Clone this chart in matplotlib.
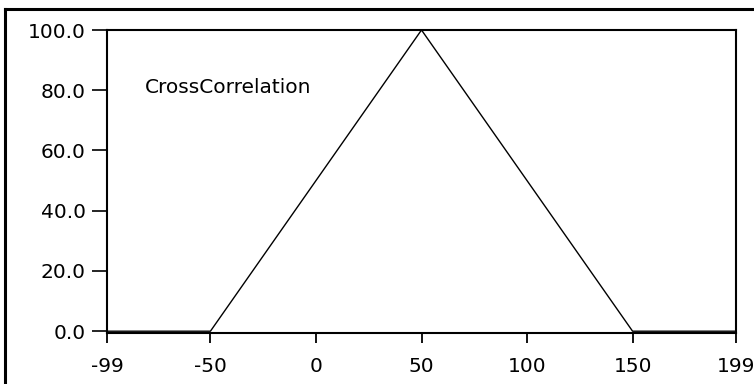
import matplotlib
matplotlib.use("Agg")
import matplotlib.pyplot as plt
from matplotlib.lines import Line2D

x_vals = [-99, -50, 50, 150, 199]
y_vals = [0.0, 0.0, 100.0, 0.0, 0.0]
x_ticks = [-99, -50, 0, 50, 100, 150, 199]
y_ticks = [0.0, 20.0, 40.0, 60.0, 80.0, 100.0]
label_text = "CrossCorrelation"

W, H = 754, 384
fig = plt.figure(figsize=(W / 100, H / 100), dpi=100)
plt.rcParams["font.family"] = ["DejaVu Sans"]
fs = 14.5

ax = fig.add_axes([107 / W, 1 - 333 / H, (736 - 107) / W, (333 - 30) / H])
ax.plot(x_vals, y_vals, color="black", lw=1.0, clip_on=False)
ax.set_xlim(-99, 199)
ax.set_ylim(-0.6, 100)
ax.set_xticks(x_ticks)
ax.set_xticklabels([str(t) for t in x_ticks], fontsize=fs)
ax.set_yticks(y_ticks)
ax.set_yticklabels([f"{t:.1f}" for t in y_ticks], fontsize=fs)
ax.tick_params(axis="x", direction="out", length=7.2, width=1.3, pad=10)
ax.tick_params(axis="y", direction="out", length=10.8, width=1.2, pad=4.5)
for s in ax.spines.values():
    s.set_linewidth(1.5)
ax.text(0.061, 0.81, label_text, transform=ax.transAxes, fontsize=fs,
        ha="left", va="center")

# outer frame lines (top and left)
fig.add_artist(Line2D([5 / W, 1], [1 - 9 / H, 1 - 9 / H], color="black", lw=2.2,
                      transform=fig.transFigure))
fig.add_artist(Line2D([5 / W, 5 / W], [0, 1 - 9 / H], color="black", lw=2.2,
                      transform=fig.transFigure))

fig.savefig("out.png", dpi=100)
